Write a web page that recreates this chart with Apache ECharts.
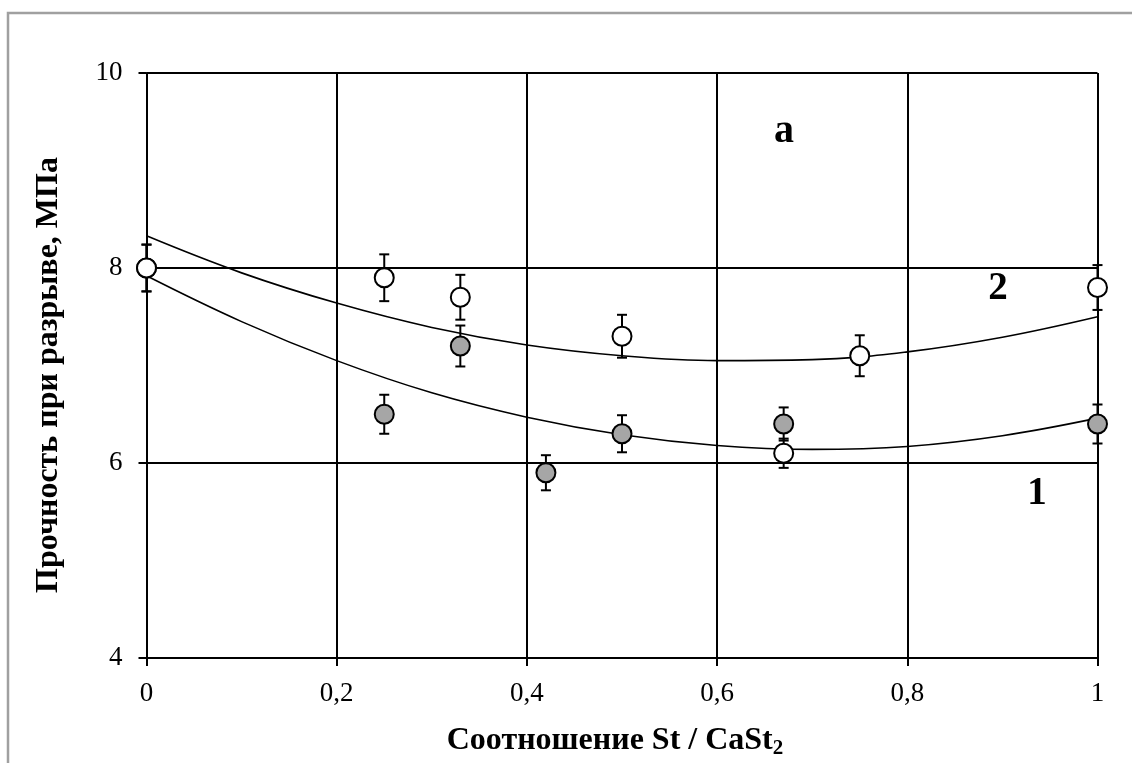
<!DOCTYPE html>
<html>
<head>
<meta charset="utf-8">
<script src="https://cdn.jsdelivr.net/npm/echarts@6/dist/echarts.min.js"></script>
<style>
  html, body { margin: 0; padding: 0; background: #fff; }
  #chart { width: 1132px; height: 763px; }
</style>
</head>
<body>
<div id="chart"></div>
<script>
// данные (прочность при разрыве, МПа)
var xTicks = ['0', '0,2', '0,4', '0,6', '0,8', '1'];
var yTicks = [4, 6, 8, 10];

// серия 1 (серые точки)
var x1 = [0, 0.25, 0.33, 0.42, 0.5, 0.67, 1];
var y1 = [8.0, 6.5, 7.2, 5.9, 6.3, 6.4, 6.4];
var err1 = [0.24, 0.2, 0.21, 0.18, 0.19, 0.17, 0.2];

// серия 2 (светлые точки)
var x2 = [0, 0.25, 0.33, 0.5, 0.67, 0.75, 1];
var y2 = [8.0, 7.9, 7.7, 7.3, 6.1, 7.1, 7.8];
var err2 = [0.24, 0.24, 0.23, 0.22, 0.15, 0.21, 0.23];

// линии тренда
var trendX = [0, 0.1, 0.2, 0.3, 0.4, 0.5, 0.6, 0.7, 0.8, 0.9, 1];
var trend1 = [7.92, 7.45, 7.05, 6.72, 6.47, 6.29, 6.18, 6.14, 6.17, 6.28, 6.46];
var trend2 = [8.33, 7.95, 7.64, 7.39, 7.21, 7.10, 7.05, 7.06, 7.14, 7.29, 7.50];

function pairs(xs, ys) {
  return xs.map(function (x, i) { return [x, ys[i]]; });
}
function errRows(xs, ys, es) {
  return xs.map(function (x, i) { return [x, ys[i] - es[i], ys[i] + es[i]]; });
}

function renderErr(params, api) {
  var x = api.value(0);
  var lo = api.coord([x, api.value(1)]);
  var hi = api.coord([x, api.value(2)]);
  var w = 5;
  var st = { stroke: '#000', lineWidth: 2 };
  return {
    type: 'group',
    children: [
      { type: 'line', shape: { x1: lo[0], y1: lo[1], x2: hi[0], y2: hi[1] }, style: st },
      { type: 'line', shape: { x1: lo[0] - w, y1: lo[1], x2: lo[0] + w, y2: lo[1] }, style: st },
      { type: 'line', shape: { x1: hi[0] - w, y1: hi[1], x2: hi[0] + w, y2: hi[1] }, style: st }
    ]
  };
}

var font = '"Liberation Serif", "Times New Roman", serif';
var myChart = echarts.init(document.getElementById('chart'));

var option = {
  animation: false,
  backgroundColor: '#fff',
  grid: { left: 146.5, right: 34.5, top: 73, bottom: 105 },
  xAxis: {
    type: 'value',
    min: 0,
    max: 1,
    interval: 0.2,
    axisLine: { show: true, onZero: false, lineStyle: { color: '#000', width: 2 } },
    axisTick: { show: true, length: 8, lineStyle: { color: '#000', width: 2 } },
    axisLabel: {
      margin: 22,
      color: '#000',
      fontFamily: font,
      fontSize: 27,
      formatter: function (v) { return String(Math.round(v * 10) / 10).replace('.', ','); }
    },
    splitLine: { show: true, lineStyle: { color: '#000', width: 2 } }
  },
  yAxis: {
    type: 'value',
    min: 4,
    max: 10,
    interval: 2,
    axisLine: { show: true, onZero: false, lineStyle: { color: '#000', width: 2 } },
    axisTick: { show: true, length: 8, lineStyle: { color: '#000', width: 2 } },
    axisLabel: { margin: 24, color: '#000', fontFamily: font, fontSize: 27 },
    splitLine: { show: true, lineStyle: { color: '#000', width: 2 } }
  },
  graphic: [
    {
      type: 'rect', silent: true, z: -1,
      shape: { x: 8, y: 13, width: 1300, height: 900 },
      style: { fill: 'none', stroke: '#a0a0a0', lineWidth: 2.5 }
    },
    {
      type: 'text', x: 615, y: 722,
      style: {
        text: '{b|Соотношение St / CaSt}{s|2}',
        align: 'center',
        rich: {
          b: { fontFamily: font, fontSize: 32, fontWeight: 'bold', fill: '#000' },
          s: { fontFamily: font, fontSize: 21, fontWeight: 'bold', fill: '#000', padding: [16, 0, 0, 0] }
        }
      }
    },
    {
      type: 'text',
      x: 49, y: 375,
      rotation: Math.PI / 2,
      style: {
        text: 'Прочность при разрыве, МПа',
        fontFamily: font, fontSize: 32, fontWeight: 'bold', fill: '#000',
        align: 'center', verticalAlign: 'middle'
      }
    },
    {
      type: 'text', x: 784, y: 132,
      style: { text: 'а', fontFamily: font, fontSize: 40, fontWeight: 'bold', fill: '#000', align: 'center', verticalAlign: 'middle' }
    },
    {
      type: 'text', x: 998, y: 289,
      style: { text: '2', fontFamily: font, fontSize: 39, fontWeight: 'bold', fill: '#000', align: 'center', verticalAlign: 'middle' }
    },
    {
      type: 'text', x: 1037, y: 494,
      style: { text: '1', fontFamily: font, fontSize: 39, fontWeight: 'bold', fill: '#000', align: 'center', verticalAlign: 'middle' }
    }
  ],
  series: [
    {
      name: 'trend1', type: 'line', data: pairs(trendX, trend1),
      smooth: 0.4, showSymbol: false, z: 2,
      lineStyle: { color: '#000', width: 1.6 }
    },
    {
      name: 'trend2', type: 'line', data: pairs(trendX, trend2),
      smooth: 0.4, showSymbol: false, z: 2,
      lineStyle: { color: '#000', width: 1.6 }
    },
    { name: 'err1', type: 'custom', renderItem: renderErr, data: errRows(x1, y1, err1), z: 3 },
    { name: 'err2', type: 'custom', renderItem: renderErr, data: errRows(x2, y2, err2), z: 3 },
    {
      name: '1', type: 'scatter', data: pairs(x1, y1), symbol: 'circle', symbolSize: 19, z: 4,
      itemStyle: { color: '#a6a6a6', borderColor: '#000', borderWidth: 2, opacity: 1 }
    },
    {
      name: '2', type: 'scatter', data: pairs(x2, y2), symbol: 'circle', symbolSize: 19, z: 5,
      itemStyle: { color: '#fff', borderColor: '#000', borderWidth: 2, opacity: 1 }
    }
  ]
};

myChart.setOption(option);
window.addEventListener('resize', function () {
  myChart.resize();
});
</script>
</body>
</html>
